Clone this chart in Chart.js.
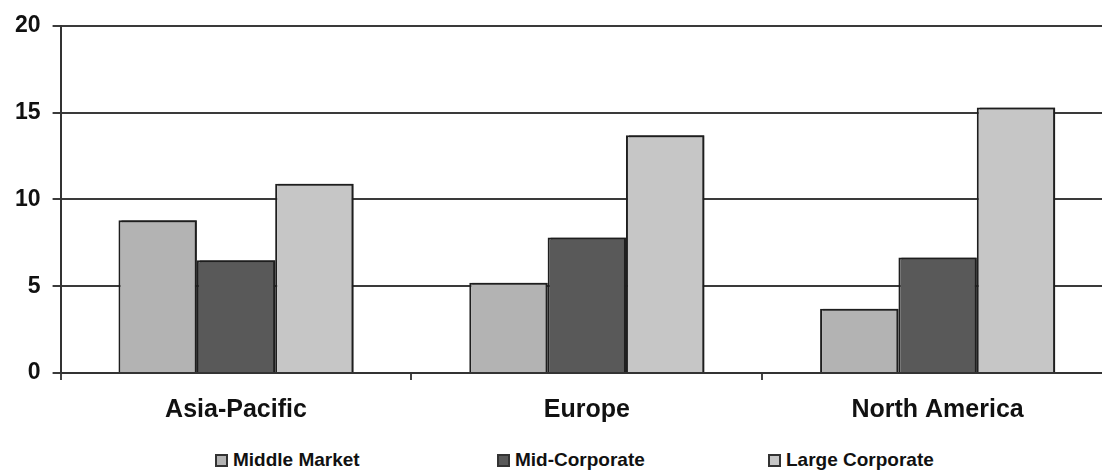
<!DOCTYPE html>
<html>
<head>
<meta charset="utf-8">
<script src="https://cdn.jsdelivr.net/npm/chart.js@4"></script>
<style>
  html, body { margin: 0; padding: 0; background: #fff; overflow: hidden; }
  #wrap { position: relative; width: 1116px; height: 471px; }
  #chartBox { position: absolute; left: 0; top: 0; width: 1116px; height: 445px; }
  #legend { position: absolute; left: 0; top: 449px; width: 1102px; height: 22px;
            font: bold 19px "Liberation Sans", Arial, sans-serif; color: #111; }
  .item { position: absolute; top: 0; display: flex; align-items: center; height: 22px; }
  .sw { width: 9px; height: 9px; border: 2px solid #333; margin-right: 5px; }
</style>
</head>
<body>
<div id="wrap">
  <div id="chartBox"><canvas id="c"></canvas></div>
  <div id="legend"></div>
</div>
<script>
// data
const regions = ['Asia-Pacific', 'Europe', 'North America'];
const seriesNames = ['Middle Market', 'Mid-Corporate', 'Large Corporate'];
const middleMarket = [8.8, 5.2, 3.7];
const midCorporate = [6.5, 7.8, 6.65];
const largeCorporate = [10.9, 13.7, 15.3];
const yTicks = [0, 5, 10, 15, 20];

const fills = ['#b3b3b3', '#595959', '#c6c6c6'];
const legendLeft = [215, 497, 768];

// dark edge on the right of each bar, like the old office charts
const barShadow = {
    id: 'barShadow',
    beforeDatasetsDraw(chart) {
        const ctx = chart.ctx;
        ctx.save();
        ctx.shadowColor = 'rgba(30,30,30,0.85)';
        ctx.shadowOffsetX = 3;
        ctx.shadowOffsetY = 0;
        ctx.shadowBlur = 0;
    },
    afterDatasetsDraw(chart) { chart.ctx.restore(); }
};

const values = [middleMarket, midCorporate, largeCorporate];
const chart = new Chart(document.getElementById('c'), {
    type: 'bar',
    data: {
        labels: regions,
        datasets: seriesNames.map((name, i) => ({
            label: name,
            data: values[i],
            backgroundColor: fills[i],
            borderColor: '#1e1e1e',
            borderWidth: 2,
            categoryPercentage: 0.67,
            barPercentage: 1.0
        }))
    },
    options: {
        responsive: true,
        maintainAspectRatio: false,
        animation: false,
        layout: { padding: { left: 3, right: 3, top: 24, bottom: 5 } },
        plugins: { legend: { display: false }, tooltip: { enabled: false } },
        scales: {
            x: {
                grid: { offset: true, drawOnChartArea: false, drawTicks: true, tickLength: 7, color: '#444', lineWidth: 2 },
                border: { color: '#333', width: 2 },
                ticks: { color: '#111', padding: 15, font: { family: '"Liberation Sans", Arial', size: 25, weight: 'bold' } }
            },
            y: {
                min: 0, max: 20,
                afterBuildTicks: axis => { axis.ticks = yTicks.map(v => ({ value: v })); },
                grid: { color: '#3a3a3a', lineWidth: 2, tickLength: 8 },
                border: { color: '#333', width: 2 },
                ticks: { color: '#111', padding: 12, font: { family: '"Liberation Sans", Arial', size: 23, weight: 'bold' } }
            }
        }
    },
    plugins: [barShadow]
});

// legend as plain html under the canvas
const legend = document.getElementById('legend');
chart.data.datasets.forEach((ds, i) => {
    const item = document.createElement('div');
    item.className = 'item';
    item.style.left = legendLeft[i] + 'px';
    item.innerHTML = '<span class="sw" style="background:' + ds.backgroundColor + '"></span>' + ds.label;
    legend.appendChild(item);
});
</script>
</body>
</html>
